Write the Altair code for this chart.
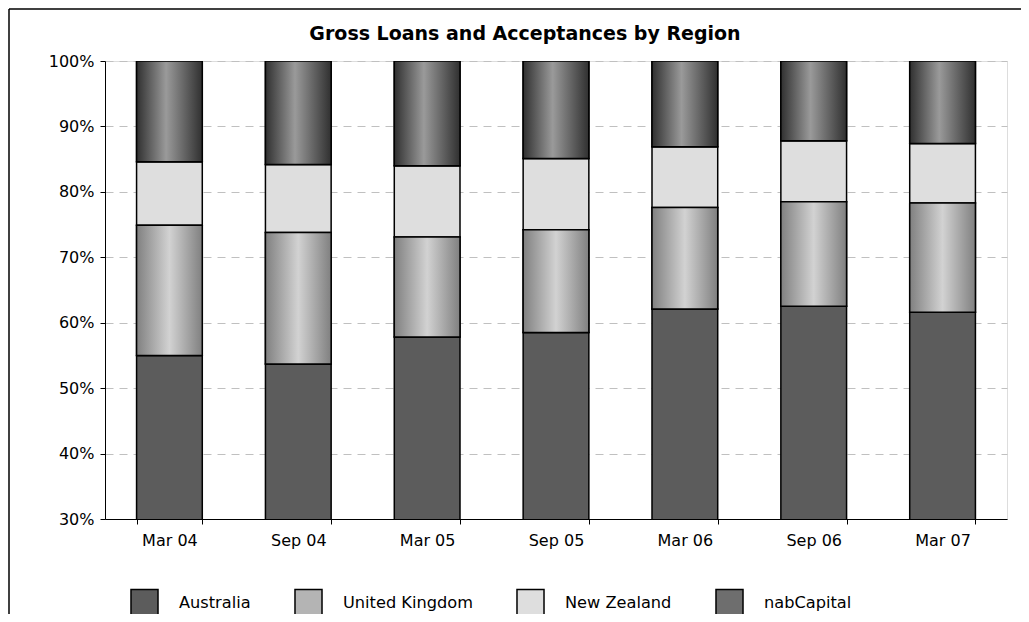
import altair as alt
import pandas as pd

dates = ["Mar 04", "Sep 04", "Mar 05", "Sep 05", "Mar 06", "Sep 06", "Mar 07"]
regions = ["Australia", "United Kingdom", "New Zealand", "nabCapital"]
australia = [55.0, 53.7, 57.8, 58.5, 62.1, 62.5, 61.6]
united_kingdom = [19.9, 20.1, 15.3, 15.7, 15.5, 16.0, 16.7]
new_zealand = [9.7, 10.4, 10.9, 10.9, 9.3, 9.3, 9.1]
nabcapital = [15.4, 15.8, 16.0, 14.9, 13.1, 12.2, 12.6]

series = {
    "Australia": australia,
    "United Kingdom": united_kingdom,
    "New Zealand": new_zealand,
    "nabCapital": nabcapital,
}
rows = []
for r_i, r in enumerate(regions):
    for d, v in zip(dates, series[r]):
        rows.append({"date": d, "region": r, "order": r_i, "share": v / 100.0})
df = pd.DataFrame(rows)

FONT = "DejaVu Sans"

grad_uk = alt.Gradient(
    gradient="linear", x1=0, x2=1, y1=0, y2=0,
    stops=[alt.GradientStop(offset=0, color="#808080"),
           alt.GradientStop(offset=0.5, color="#d2d2d2"),
           alt.GradientStop(offset=1, color="#808080")])
grad_nab = alt.Gradient(
    gradient="linear", x1=0, x2=1, y1=0, y2=0,
    stops=[alt.GradientStop(offset=0, color="#303030"),
           alt.GradientStop(offset=0.45, color="#9a9a9a"),
           alt.GradientStop(offset=1, color="#303030")])

solid = ["#5c5c5c", "#b4b4b4", "#dedede", "#6e6e6e"]

base = alt.Chart(df).transform_stack(
    stack="share", groupby=["date"], as_=["y0", "y1"],
    sort=[alt.SortField("order", order="ascending")]
)

xenc = alt.X("date:N", sort=dates, title=None,
             scale=alt.Scale(paddingInner=0.49, paddingOuter=0.245),
             axis=alt.Axis(labelAngle=0, tickBand="extent", labelFont=FONT,
                           labelFontSize=16, labelColor="#000000",
                           domainColor="#000000", tickColor="#000000",
                           tickSize=5, labelPadding=8, grid=False))
yenc = alt.Y("y0:Q", title=None,
             scale=alt.Scale(domain=[0.3, 1.0], nice=False, zero=False),
             axis=alt.Axis(format=".0%", values=[0.3, 0.4, 0.5, 0.6, 0.7, 0.8, 0.9, 1.0],
                           labelFont=FONT, labelFontSize=16, labelColor="#000000",
                           domainColor="#000000", tickColor="#000000", tickSize=5,
                           labelPadding=6, grid=True, gridColor="#c0c0c0",
                           gridDash=[8, 6], gridWidth=1))

bars = base.mark_bar(stroke="#000000", strokeWidth=1.5, clip=True).encode(
    x=xenc, y=yenc, y2="y1:Q",
    color=alt.Color("region:N", sort=regions,
                    scale=alt.Scale(domain=regions, range=solid),
                    legend=alt.Legend(title=None, orient="none", direction="horizontal",
                                      legendX=25, legendY=527, symbolType="square",
                                      symbolSize=730, symbolStrokeColor="#000000",
                                      symbolStrokeWidth=1.5, symbolOpacity=1,
                                      labelFont=FONT, labelFontSize=16.2,
                                      labelColor="#000000", labelOffset=20,
                                      columnPadding=40, padding=0)),
)

uk = base.transform_filter(alt.datum.region == "United Kingdom").mark_bar(
    fill=grad_uk, stroke="#000000", strokeWidth=1.5, clip=True
).encode(x=alt.X("date:N", sort=dates), y="y0:Q", y2="y1:Q")

nab = base.transform_filter(alt.datum.region == "nabCapital").mark_bar(
    fill=grad_nab, stroke="#000000", strokeWidth=1.5, clip=True
).encode(x=alt.X("date:N", sort=dates), y="y0:Q", y2="y1:Q")

one = pd.DataFrame({"k": [0]})
frame_top = alt.Chart(one).mark_rule(color="#000000", strokeWidth=1.5, clip=False).encode(
    x=alt.value(-96), x2=alt.value(1300), y=alt.value(-52))
frame_left = alt.Chart(one).mark_rule(color="#000000", strokeWidth=1.5, clip=False).encode(
    x=alt.value(-96), y=alt.value(-52), y2=alt.value(560))

chart = alt.layer(frame_top, frame_left, bars, uk, nab).properties(
    width=902, height=458,
    title=alt.TitleParams("Gross Loans and Acceptances by Region", font=FONT,
                          fontSize=19, fontWeight="bold", color="#000000",
                          anchor="middle", offset=-36, dx=-31),
    autosize=alt.AutoSizeParams(type="none"),
    padding={"left": 97, "top": 53, "right": 14, "bottom": 95},
).configure_view(stroke=None).configure(background="#ffffff")

chart.save("out.html", embed_options={"renderer": "svg", "actions": False})
